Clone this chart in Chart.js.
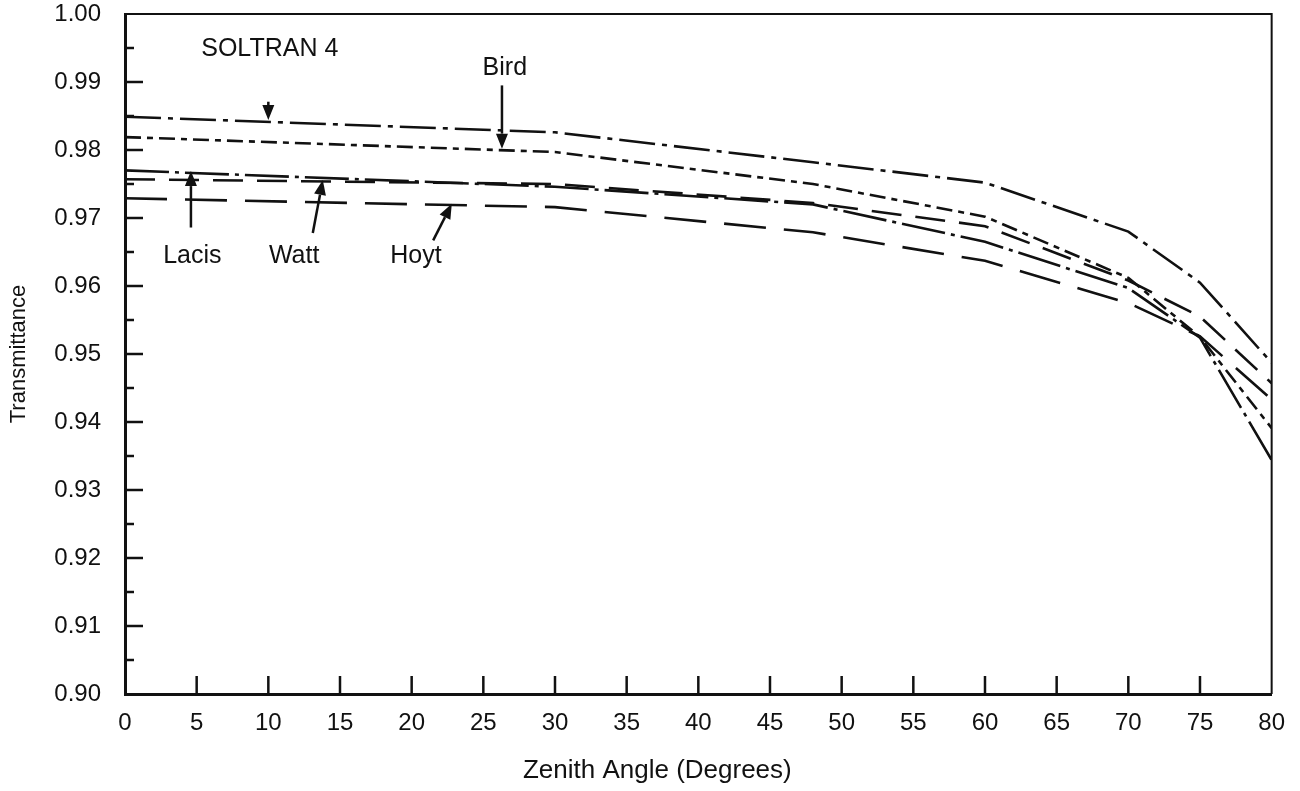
<!DOCTYPE html>
<html>
<head>
<meta charset="utf-8">
<script src="https://cdn.jsdelivr.net/npm/chart.js@4"></script>
<style>
  html, body { margin: 0; padding: 0; background: #fff; }
  canvas { display: block; }
</style>
</head>
<body>
<canvas id="transChart" width="1300" height="791"></canvas>
<script>
// ---- data ----
const angles = [0, 30, 48, 60, 70, 75, 80];
const soltran = [0.9849, 0.9826, 0.9782, 0.9752, 0.9680, 0.9605, 0.9487];
const bird    = [0.9819, 0.9797, 0.9750, 0.9702, 0.9612, 0.9525, 0.9391];
const lacis   = [0.9770, 0.9746, 0.9720, 0.9665, 0.9597, 0.9524, 0.9344];
const watt    = [0.9757, 0.9750, 0.9722, 0.9688, 0.9608, 0.9555, 0.9457];
const hoyt    = [0.9729, 0.9716, 0.9679, 0.9637, 0.9575, 0.9526, 0.9433];

const xTicks = [0, 5, 10, 15, 20, 25, 30, 35, 40, 45, 50, 55, 60, 65, 70, 75, 80];
const yTicks = [0.90, 0.91, 0.92, 0.93, 0.94, 0.95, 0.96, 0.97, 0.98, 0.99, 1.00];

// callout labels and their arrows (data coordinates)
const labelText = ['SOLTRAN 4', 'Bird', 'Lacis', 'Watt', 'Hoyt'];
const labelX    = [10.1, 26.5, 4.7, 11.8, 20.3];
const labelY    = [0.9948, 0.9920, 0.9644, 0.9644, 0.9644];
const arrowFrom = [[10.0, 0.9871], [26.3, 0.9895], [4.6, 0.9686], [13.1, 0.9678], [21.5, 0.9667]];
const arrowTo   = [[10.0, 0.9844], [26.3, 0.9802], [4.6, 0.9769], [13.8, 0.9756], [22.8, 0.9721]];

const INK = '#111';
const FONT = '"Liberation Sans", Arial, sans-serif';

function series(values) {
    return angles.map((a, i) => ({ x: a, y: values[i] }));
}

// inward ticks, top/right frame, x title and the callouts
const decorations = {
    id: 'decorations',
    afterDatasetsDraw(chart) {
        const { ctx, chartArea: area, scales: { x, y } } = chart;
        ctx.save();
        ctx.strokeStyle = INK;
        ctx.lineCap = 'butt';

        // frame top and right
        ctx.lineWidth = 2;
        ctx.beginPath();
        ctx.moveTo(area.left, area.top);
        ctx.lineTo(area.right, area.top);
        ctx.lineTo(area.right, area.bottom);
        ctx.stroke();

        // x ticks pointing up
        ctx.lineWidth = 2.5;
        xTicks.forEach(v => {
            if (v === xTicks[0] || v === xTicks[xTicks.length - 1]) return;
            const px = x.getPixelForValue(v);
            ctx.beginPath();
            ctx.moveTo(px, area.bottom);
            ctx.lineTo(px, area.bottom - 18);
            ctx.stroke();
        });

        // y ticks pointing right, with half steps
        yTicks.forEach((v, i) => {
            const py = y.getPixelForValue(v);
            if (i > 0 && i < yTicks.length - 1) {
                ctx.beginPath();
                ctx.moveTo(area.left, py);
                ctx.lineTo(area.left + 18, py);
                ctx.stroke();
            }
            if (i > 0) {
                const mid = y.getPixelForValue((v + yTicks[i - 1]) / 2);
                ctx.beginPath();
                ctx.moveTo(area.left, mid);
                ctx.lineTo(area.left + 9, mid);
                ctx.stroke();
            }
        });

        ctx.fillStyle = INK;
        ctx.textAlign = 'center';
        ctx.textBaseline = 'middle';

        // x axis title sits a little left of centre in the original
        ctx.font = '26px ' + FONT;
        ctx.fillText('Zenith Angle (Degrees)', (area.left + area.right) / 2 - 41, area.bottom + 77);

        // callout text
        ctx.font = '25px ' + FONT;
        labelText.forEach((t, i) => {
            ctx.fillText(t, x.getPixelForValue(labelX[i]), y.getPixelForValue(labelY[i]));
        });

        // arrows
        ctx.lineWidth = 2.5;
        arrowFrom.forEach((from, i) => {
            const x0 = x.getPixelForValue(from[0]), y0 = y.getPixelForValue(from[1]);
            const x1 = x.getPixelForValue(arrowTo[i][0]), y1 = y.getPixelForValue(arrowTo[i][1]);
            const ang = Math.atan2(y1 - y0, x1 - x0);
            const len = 15, half = 6;
            const bx = x1 - len * Math.cos(ang), by = y1 - len * Math.sin(ang);
            ctx.beginPath();
            ctx.moveTo(x0, y0);
            ctx.lineTo(bx, by);
            ctx.stroke();
            ctx.beginPath();
            ctx.moveTo(x1, y1);
            ctx.lineTo(bx + half * Math.sin(ang), by - half * Math.cos(ang));
            ctx.lineTo(bx - half * Math.sin(ang), by + half * Math.cos(ang));
            ctx.closePath();
            ctx.fill();
        });

        ctx.restore();
    }
};

const lineStyle = (label, values, dash) => ({
    label: label,
    data: series(values),
    borderColor: INK,
    borderWidth: 2.6,
    borderDash: dash,
    pointRadius: 0,
    tension: 0,
    fill: false
});

new Chart(document.getElementById('transChart'), {
    type: 'line',
    data: {
        datasets: [
            lineStyle('SOLTRAN 4', soltran, [36, 7, 5, 7]),
            lineStyle('Bird', bird, [16, 6, 6, 6]),
            lineStyle('Lacis', lacis, [44, 6, 4, 6]),
            lineStyle('Watt', watt, [30, 14]),
            lineStyle('Hoyt', hoyt, [42, 18])
        ]
    },
    options: {
        responsive: false,
        animation: false,
        layout: { padding: { top: 14, right: 28, left: 0, bottom: 0 } },
        plugins: {
            legend: { display: false },
            tooltip: { enabled: false }
        },
        scales: {
            x: {
                type: 'linear',
                min: 0,
                max: 80,
                afterBuildTicks: s => { s.ticks = xTicks.map(v => ({ value: v })); },
                afterFit: s => { s.height = 97; },
                ticks: {
                    color: INK,
                    padding: 15,
                    maxRotation: 0,
                    font: { family: FONT, size: 24 }
                },
                grid: { drawOnChartArea: false, drawTicks: false },
                border: { color: INK, width: 3 }
            },
            y: {
                type: 'linear',
                min: 0.90,
                max: 1.00,
                afterBuildTicks: s => { s.ticks = yTicks.map(v => ({ value: v })); },
                afterFit: s => {
                    s.width = 125;
                    s.paddingTop = 0;
                    s.paddingBottom = 0;
                },
                ticks: {
                    color: INK,
                    padding: 24,
                    callback: v => v.toFixed(2),
                    font: { family: FONT, size: 24 }
                },
                grid: { drawOnChartArea: false, drawTicks: false },
                border: { color: INK, width: 3 },
                title: {
                    display: true,
                    text: 'Transmittance',
                    color: INK,
                    font: { family: FONT, size: 22 },
                    padding: { top: 6, bottom: 0 }
                }
            }
        }
    },
    plugins: [decorations]
});
</script>
</body>
</html>
